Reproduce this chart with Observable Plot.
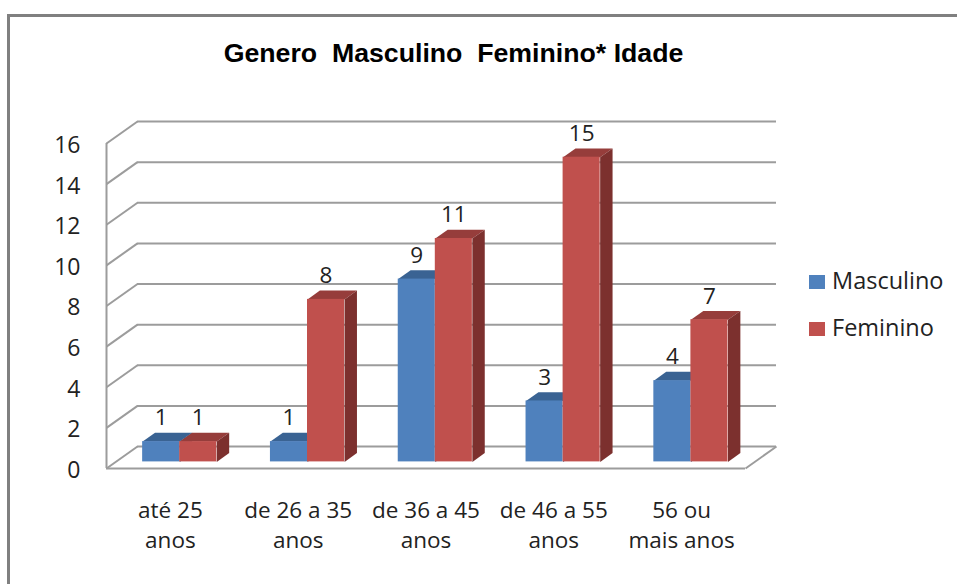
<!DOCTYPE html>
<html>
<head>
<meta charset="utf-8">
<script src="https://cdn.jsdelivr.net/npm/d3@7"></script>
<script src="https://cdn.jsdelivr.net/npm/@observablehq/plot@0.6"></script>
<style>
  html, body { margin: 0; padding: 0; background: #fff; }
  #page { position: relative; width: 957px; height: 584px; overflow: hidden; font-family: "Open Sans", sans-serif; color: #222; }
  #frame { position: absolute; left: 7px; top: 14px; width: 960px; height: 600px; border-left: 3px solid #808080; border-top: 3px solid #808080; box-sizing: border-box; }
  #title { position: absolute; left: 0; width: 907px; top: 38px; text-align: center; font: bold 26.7px "Liberation Sans", Arial, sans-serif; color: #000; white-space: pre; }
  .key { position: absolute; left: 809px; font-size: 23.5px; line-height: 30px; white-space: nowrap; }
  .key i { display: inline-block; width: 16px; height: 14px; margin-right: 7px; vertical-align: 0px; }
  svg { position: absolute; left: 0; top: 0; }
</style>
</head>
<body>
<div id="page">
  <div id="frame"></div>
  <div id="title"></div>
  <div id="chart"></div>
  <div class="key" style="top:265px"><i style="background:#4F81BD"></i>Masculino</div>
  <div class="key" style="top:312px"><i style="background:#C0504D"></i>Feminino</div>
</div>
<script>
const titleText = "Genero  Masculino  Feminino* Idade";
const categories = ["até 25\nanos", "de 26 a 35\nanos", "de 36 a 45\nanos", "de 46 a 55\nanos", "56 ou\nmais anos"];
const masculino = [1, 1, 9, 3, 4];
const feminino = [1, 8, 11, 15, 7];
const yTicks = [0, 2, 4, 6, 8, 10, 12, 14, 16];

document.getElementById("title").textContent = titleText;

// Oblique projection, in data units: how far the back wall sits from the front plane
const depthX = 0.2426, depthY = 1.083;
const barNear = 0.3, barFar = 0.7, barWidth = 0.29;
const grid = "#9c9c9c";

const series = [
  {name: "Masculino", values: masculino, front: "#4F81BD", top: "#3A6393", side: "#2F5580", off: -1},
  {name: "Feminino", values: feminino, front: "#C0504D", top: "#963D3B", side: "#7C302E", off: 0}
];

const rows = series.flatMap(s => s.values.map((v, i) => {
  const x1 = i + 0.5 + s.off * barWidth + barNear * depthX;
  return {series: s.name, i, v, x1, x2: x1 + barWidth, y1: barNear * depthY, y2: v + barNear * depthY,
          dx: (barFar - barNear) * depthX, dy: (barFar - barNear) * depthY};
}));

const faces = (row, kind) => {
  const {x1, x2, y1, y2, dx, dy} = row;
  const id = `${row.series}-${row.i}-${kind}`;
  const pts = kind === "top"
    ? [[x1, y2], [x2, y2], [x2 + dx, y2 + dy], [x1 + dx, y2 + dy]]
    : [[x2, y1], [x2 + dx, y1 + dy], [x2 + dx, y2 + dy], [x2, y2]];
  return pts.map(([x, y]) => ({id, x, y}));
};

const barMarks = series.flatMap(s => {
  const own = rows.filter(r => r.series === s.name);
  return [
    Plot.line(own.flatMap(r => faces(r, "top")), {x: "x", y: "y", z: "id", fill: s.top, stroke: "none"}),
    Plot.line(own.flatMap(r => faces(r, "side")), {x: "x", y: "y", z: "id", fill: s.side, stroke: "none"}),
    Plot.rect(own, {x1: "x1", x2: "x2", y1: "y1", y2: "y2", fill: s.front, inset: 0})
  ];
});

const chart = Plot.plot({
  width: 957, height: 584,
  marginLeft: 106, marginRight: 212, marginTop: 143, marginBottom: 116,
  style: {background: "transparent", fontFamily: "'Open Sans', sans-serif", color: "#222"},
  x: {type: "linear", domain: [0, 5]},
  y: {domain: [0, 16]},
  marks: [
    // back wall
    Plot.ruleY(yTicks, {y: d => d + depthY, x1: depthX, x2: 5 + depthX, stroke: grid, strokeWidth: 2}),
    // left wall diagonals
    Plot.link(yTicks, {x1: 0, y1: d => d, x2: depthX, y2: d => d + depthY, stroke: grid, strokeWidth: 2}),
    // left wall edge, floor front and right edges
    Plot.ruleX([0], {y1: 0, y2: 16, stroke: grid, strokeWidth: 2}),
    Plot.ruleY([0], {x1: 0, x2: 5, stroke: grid, strokeWidth: 2}),
    Plot.link([0], {x1: 5, y1: 0, x2: 5 + depthX, y2: depthY, stroke: grid, strokeWidth: 2}),
    ...barMarks,
    Plot.text(rows, {x: d => d.x1 + barWidth / 2, y: "v", text: d => String(d.v), dy: -30, fontSize: 22.5, fill: "#222"}),
    Plot.axisY({ticks: yTicks, tickSize: 0, tickPadding: 26, fontSize: 23, dy: 2, label: null, fill: "#222"}),
    Plot.axisX({ticks: categories.map((_, i) => i + 0.5), tickFormat: d => categories[d - 0.5], tickSize: 0, tickPadding: 28, fontSize: 22.5, lineHeight: 1.33, label: null, fill: "#222"})
  ]
});
document.getElementById("chart").appendChild(chart);
</script>
</body>
</html>
